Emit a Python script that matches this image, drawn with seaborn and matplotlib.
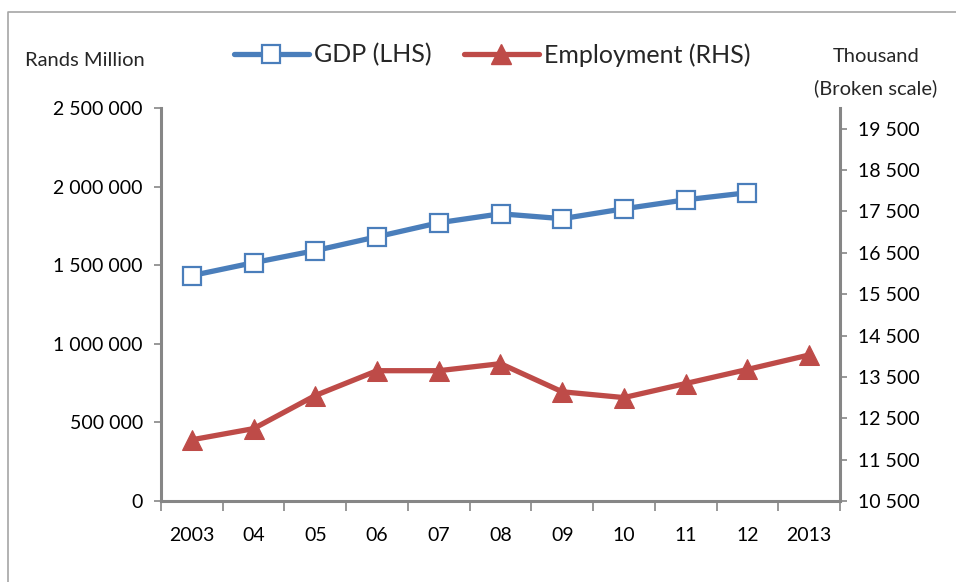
import matplotlib
matplotlib.use("Agg")
import matplotlib.pyplot as plt
import seaborn as sns
import pandas as pd
import numpy as np
from matplotlib.lines import Line2D
from matplotlib.ticker import FuncFormatter, FixedLocator

sns.set_style("white")
plt.rcParams['font.family'] = ['Lato', 'DejaVu Sans']

years = ["2003", "04", "05", "06", "07", "08", "09", "10", "11", "12", "2013"]
gdp = [1434000, 1516000, 1593000, 1681000, 1770000, 1827000, 1796000, 1859000, 1916000, 1961000, np.nan]
employment = [11980, 12250, 13050, 13650, 13650, 13820, 13140, 13000, 13340, 13680, 14030]

left_ticks = [0, 500000, 1000000, 1500000, 2000000, 2500000]
right_ticks = [10500, 11500, 12500, 13500, 14500, 15500, 16500, 17500, 18500, 19500]

df = pd.DataFrame({"idx": np.arange(len(years)), "year": years, "gdp": gdp, "emp": employment})

blue = "#4A7EBB"
red = "#BE4B48"
spine_c = "#868686"

W, H = 956, 582
fig = plt.figure(figsize=(W / 100, H / 100), dpi=100)
ax = fig.add_axes([161 / W, 1 - 501 / H, (840 - 161) / W, (501 - 108) / H])
ax2 = ax.twinx()

sns.lineplot(data=df.dropna(subset=["gdp"]), x="idx", y="gdp", ax=ax, color=blue, lw=3.8,
             marker="s", markersize=13, markerfacecolor="white", markeredgecolor=blue,
             markeredgewidth=1.6, legend=False)
sns.lineplot(data=df, x="idx", y="emp", ax=ax2, color=red, lw=3.8,
             marker="^", markersize=14, markerfacecolor=red, markeredgecolor=red,
             legend=False)

fmt = lambda v, p: f"{int(v):,}".replace(",", " ")
ax.set_xlim(-0.5, len(years) - 0.5)
ax.set_ylim(0, 2500000)
ax2.set_ylim(10500, 20000)
ax.yaxis.set_major_locator(FixedLocator(left_ticks))
ax.yaxis.set_major_formatter(FuncFormatter(fmt))
ax2.yaxis.set_major_locator(FixedLocator(right_ticks))
ax2.yaxis.set_major_formatter(FuncFormatter(fmt))

ax.set_xticks(np.arange(-0.5, len(years), 1.0))
ax.set_xticklabels([])
ax.set_xticks(np.arange(len(years)), minor=True)
ax.set_xticklabels(years, minor=True)
ax.tick_params(axis="x", which="major", direction="out", length=7, width=1.2, color=spine_c, bottom=True)
ax.tick_params(axis="x", which="minor", length=0, pad=19, labelsize=14, labelcolor="black")
ax.tick_params(axis="y", direction="out", length=5, width=1.2, color=spine_c, left=True,
               labelsize=14, labelcolor="black", pad=8)
ax2.tick_params(axis="y", direction="out", length=5, width=1.2, color=spine_c, right=True,
                labelsize=14, labelcolor="black", pad=8)
ax.set_xlabel("")
ax.set_ylabel("")
ax2.set_ylabel("")

for a in (ax, ax2):
    a.spines["top"].set_visible(False)
    for s in ("left", "right", "bottom"):
        a.spines[s].set_color(spine_c)
        a.spines[s].set_linewidth(2.2)
ax.spines["right"].set_visible(False)
ax2.spines["left"].set_visible(False)
ax2.spines["bottom"].set_visible(False)

fig.text(25 / W, 1 - 60 / H, "Rands Million", fontsize=14.5, va="center", ha="left")
fig.text(876 / W, 1 - 57 / H, "Thousand", fontsize=14.5, va="center", ha="center")
fig.text(876 / W, 1 - 88 / H, "(Broken scale)", fontsize=14.5, va="center", ha="center")

handles = [
    Line2D([], [], color=blue, lw=3.8, marker="s", markersize=13, markerfacecolor="white",
           markeredgecolor=blue, markeredgewidth=1.6),
    Line2D([], [], color=red, lw=3.8, marker="^", markersize=14, markerfacecolor=red,
           markeredgecolor=red),
]
fig.legend(handles, ["GDP (LHS)", "Employment (RHS)"], loc="center", bbox_to_anchor=(492 / W, 1 - 55 / H),
           ncol=2, frameon=False, fontsize=18, handlelength=3.0, handletextpad=0.2, columnspacing=1.3)

fig.add_artist(Line2D([8 / W, 8 / W, 1.05], [-0.05, 1 - 12 / H, 1 - 12 / H], transform=fig.transFigure,
                      color="#A6A6A6", lw=1.2))

fig.savefig("out.png", dpi=100)
